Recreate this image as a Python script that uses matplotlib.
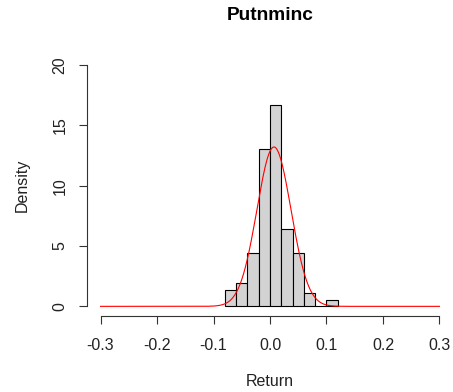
import numpy as np
import matplotlib
matplotlib.use("Agg")
import matplotlib.pyplot as plt

# histogram of returns, bin width 0.02
bin_edges = [-0.08, -0.06, -0.04, -0.02, 0.0, 0.02, 0.04, 0.06, 0.08, 0.10, 0.12]
counts = [5, 7, 16, 47, 60, 23, 16, 4, 0, 2]
n_obs = 180

# fitted normal curve
fit_mean = 0.007
fit_sd = 0.0302

x_ticks = [-0.3, -0.2, -0.1, 0.0, 0.1, 0.2, 0.3]
y_ticks = [0, 5, 10, 15, 20]

plt.rcParams['font.family'] = ['Liberation Sans', 'DejaVu Sans']

fig = plt.figure(figsize=(4.53, 3.92), dpi=100)
ax = fig.add_axes([87 / 453, 76 / 392, 366 / 453, (316 - 55.4) / 392])

widths = np.diff(bin_edges)
dens = np.array(counts) / (n_obs * widths)
ax.bar(bin_edges[:-1], dens, width=widths, align='edge',
       facecolor='#D3D3D3', edgecolor='black', linewidth=0.8)

xs = np.linspace(-0.3, 0.3, 601)
ys = np.exp(-0.5 * ((xs - fit_mean) / fit_sd) ** 2) / (fit_sd * np.sqrt(2 * np.pi))
ax.plot(xs, ys, color='red', linewidth=0.8)

ax.set_xlim(-0.324, 0.324)
ax.set_ylim(-0.8, 20.8)
for s in ['top', 'right']:
    ax.spines[s].set_visible(False)
ax.spines['left'].set_bounds(0, 20)
ax.spines['bottom'].set_bounds(-0.3, 0.3)
for s in ['left', 'bottom']:
    ax.spines[s].set_linewidth(0.8)
    ax.spines[s].set_color('#333333')

ax.set_xticks(x_ticks)
ax.set_xticklabels(['%.1f' % v for v in x_ticks])
ax.set_yticks(y_ticks)
ax.set_yticklabels([str(v) for v in y_ticks], rotation=90, va='center')
ax.tick_params(axis='both', length=6, width=0.8, color='#333333',
               labelsize=11.5, labelcolor='#222222')
ax.tick_params(axis='x', pad=10)
ax.tick_params(axis='y', pad=8)

fig.text(270 / 453, 1 - 15 / 392, 'Putnminc', ha='center', va='center',
         fontsize=13.8, fontweight='bold')
fig.text(270 / 453, 1 - 382 / 392, 'Return', ha='center', va='center',
         fontsize=11.5, color='#222222')
fig.text(22 / 453, 1 - 185 / 392, 'Density', ha='center', va='center',
         rotation=90, fontsize=11.5, color='#222222')

fig.savefig('out.png', dpi=100)
